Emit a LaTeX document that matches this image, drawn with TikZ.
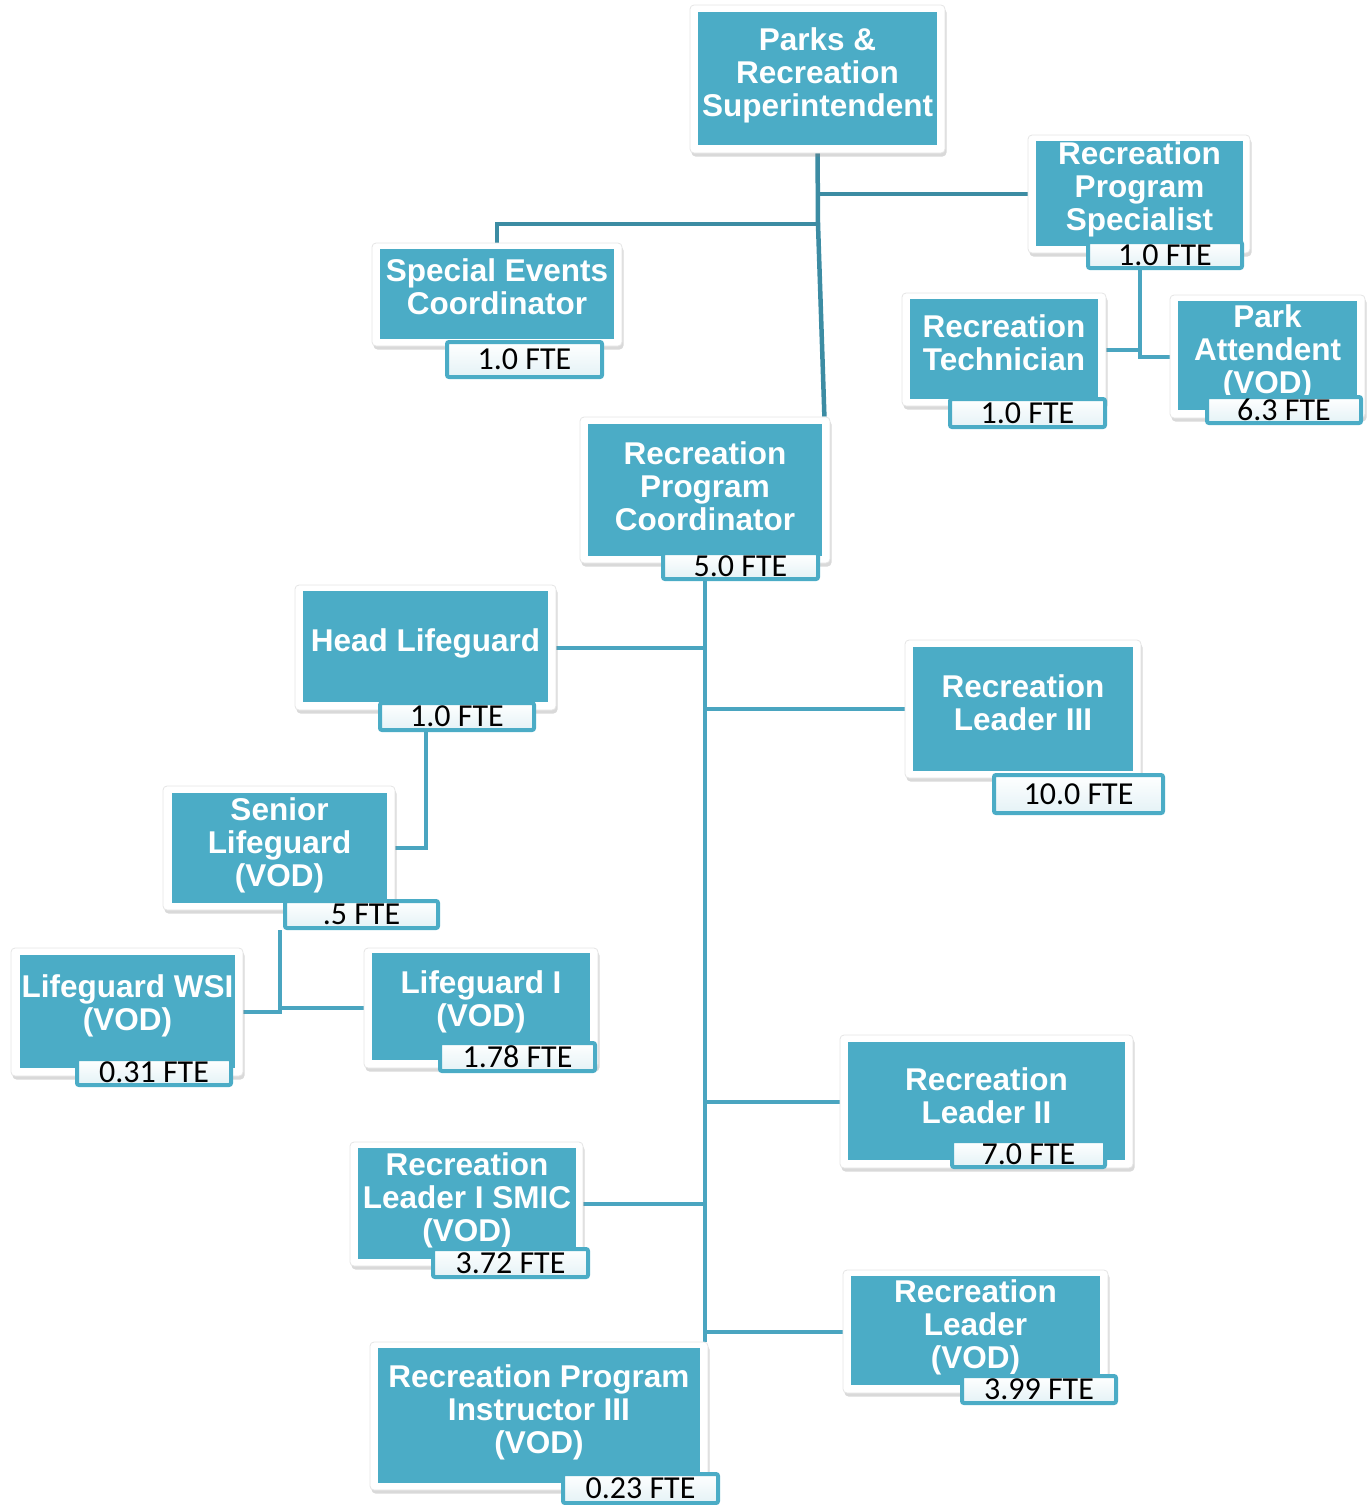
\documentclass[tikz,border=0pt]{standalone}
\usepackage{fontspec}
\setmainfont{Liberation Sans}
\newfontfamily\ftefont{Carlito}
\usetikzlibrary{fit,shadows,backgrounds,calc}
\definecolor{teal1}{HTML}{4BACC6}
\definecolor{connA}{HTML}{3C8CA3}
\definecolor{connB}{HTML}{4AA5C0}
\definecolor{lblbot}{HTML}{E4F2F6}
\tikzset{
 frame/.style={fill=white, draw=black!10, line width=0.8pt, rounded corners=4pt, inner sep=0pt,
   drop shadow={shadow xshift=1.5pt, shadow yshift=-3.5pt, opacity=0.3}},
 tealbox/.style={fill=teal1, inner sep=0pt, draw=none},
 title/.style={text=white, font=\fontsize{31.5}{33}\selectfont\bfseries, align=center, inner sep=0pt},
 ftebox/.style={draw=teal1, line width=4pt, rounded corners=2pt, top color=white, bottom color=lblbot, inner sep=0pt},
 ftetext/.style={font=\ftefont\fontsize{32}{33}\selectfont, inner sep=0pt, text=black},
 lineA/.style={draw=connA, line width=4.5pt},
 lineB/.style={draw=connB, line width=4pt},
}
\begin{document}
\begin{tikzpicture}[x=1pt,y=-1pt]
\useasboundingbox (0,0) rectangle (1372,1505);

% Superintendent
\node[frame, fit={(690,5)(945,153)}] (supf) {};
\node[tealbox, fit={(698,12)(937,145)}] (sup) {};
\node[title] (supt) at (817.5,75) {Parks \&\\Recreation\\Superintendent};

% Specialist
\node[frame, fit={(1028,135)(1250,253)}] (spsf) {};
\node[tealbox, fit={(1036,141)(1243,246)}] (sps) {};
\node[title] (spst) at (1139.5,189) {Recreation\\Program\\Specialist};
\node[ftebox, fit={(1088,242)(1242,268)}] (spsl) {};
\node[ftetext] (spslt) at (spsl.center) {1.0 FTE};

% Special Events
\node[frame, fit={(372,243)(622,346)}] (sevf) {};
\node[tealbox, fit={(380,249)(614,339)}] (sev) {};
\node[title] (sevt) at (497,286.5) {Special Events\\Coordinator};
\node[ftebox, fit={(447,342)(602,377)}] (sevl) {};
\node[ftetext] (sevlt) at (sevl.center) {1.0 FTE};

% Technician
\node[frame, fit={(902,293)(1106,406)}] (tecf) {};
\node[tealbox, fit={(910,299)(1098,399)}] (tec) {};
\node[title] (tect) at (1004,342.5) {Recreation\\Technician};
\node[ftebox, fit={(950,399)(1105,427)}] (tecl) {};
\node[ftetext] (teclt) at (tecl.center) {1.0 FTE};

% Park Attendent
\node[frame, fit={(1170,295)(1365,418)}] (paf) {};
\node[tealbox, fit={(1178,301)(1357,410)}] (pa) {};
\node[title] (pat) at (1267.5,352) {Park\\Attendent\\(VOD)};
\node[ftebox, fit={(1207,397)(1361,423)}] (pal) {};
\node[ftetext] (palt) at (pal.center) {6.3 FTE};

% Recreation Program Coordinator
\node[frame, fit={(580,417)(830,563)}] (rpcf) {};
\node[tealbox, fit={(588,424)(822,556)}] (rpc) {};
\node[title] (rpct) at (705,486) {Recreation\\Program\\Coordinator};
\node[ftebox, fit={(663,553)(818,579)}] (rpcl) {};
\node[ftetext] (rpclt) at (rpcl.center) {5.0 FTE};

% Head Lifeguard
\node[frame, fit={(295,585)(556,710)}] (hlf) {};
\node[tealbox, fit={(303,591)(548,702)}] (hl) {};
\node[title] (hlt) at (425.5,643) {Head Lifeguard};
\node[ftebox, fit={(380,703)(534,730)}] (hll) {};
\node[ftetext] (hllt) at (hll.center) {1.0 FTE};

% Recreation Leader III
\node[frame, fit={(905,640)(1141,778)}] (rl3f) {};
\node[tealbox, fit={(913,647)(1133,771)}] (rl3) {};
\node[title] (rl3t) at (1023,702.5) {Recreation\\Leader III};
\node[ftebox, fit={(994,775)(1163,813)}] (rl3l) {};
\node[ftetext] (rl3lt) at (rl3l.center) {10.0 FTE};

% Senior Lifeguard
\node[frame, fit={(163,786)(395,910)}] (slf) {};
\node[tealbox, fit={(172,793)(387,903)}] (sl) {};
\node[title] (slt) at (279.5,845) {Senior\\Lifeguard\\(VOD)};
\node[ftebox, fit={(285,901)(438,928)}] (sll) {};
\node[ftetext] (sllt) at (sll.center) {.5 FTE};

% Lifeguard WSI
\node[frame, fit={(11,948)(243,1076)}] (wsif) {};
\node[tealbox, fit={(20,955)(235,1068)}] (wsi) {};
\node[title] (wsit) at (127.5,1006) {Lifeguard WSI\\(VOD)};
\node[ftebox, fit={(77,1059)(231,1085)}] (wsil) {};
\node[ftetext] (wsilt) at (wsil.center) {0.31 FTE};

% Lifeguard I
\node[frame, fit={(364,948)(598,1068)}] (l1f) {};
\node[tealbox, fit={(372,953)(590,1060)}] (l1) {};
\node[title] (l1t) at (481,1002) {Lifeguard I\\(VOD)};
\node[ftebox, fit={(440,1043)(595,1071)}] (l1l) {};
\node[ftetext] (l1lt) at (l1l.center) {1.78 FTE};

% Recreation Leader II
\node[frame, fit={(840,1035)(1133,1168)}] (rl2f) {};
\node[tealbox, fit={(848,1042)(1125,1160)}] (rl2) {};
\node[title] (rl2t) at (986.5,1095.5) {Recreation\\Leader II};
\node[ftebox, fit={(952,1141)(1105,1167)}] (rl2l) {};
\node[ftetext] (rl2lt) at (rl2l.center) {7.0 FTE};

% Recreation Leader I SMIC
\node[frame, fit={(350,1142)(583,1266)}] (smicf) {};
\node[tealbox, fit={(358,1148)(576,1259)}] (smic) {};
\node[title] (smict) at (467,1200) {Recreation\\Leader I SMIC\\(VOD)};
\node[ftebox, fit={(433,1249)(588,1277)}] (smicl) {};
\node[ftetext] (smiclt) at (smicl.center) {3.72 FTE};

% Recreation Leader (VOD)
\node[frame, fit={(843,1270)(1108,1393)}] (rlvf) {};
\node[tealbox, fit={(851,1276)(1100,1385)}] (rlv) {};
\node[title] (rlvt) at (975.5,1327) {Recreation\\Leader\\(VOD)};
\node[ftebox, fit={(962,1376)(1116,1403)}] (rlvl) {};
\node[ftetext] (rlvlt) at (rlvl.center) {3.99 FTE};

% Recreation Program Instructor III
\node[frame, fit={(370,1342)(708,1490)}] (rpif) {};
\node[tealbox, fit={(378,1348)(700,1483)}] (rpi) {};
\node[title] (rpit) at (539,1412) {Recreation Program\\Instructor III\\(VOD)};
\node[ftebox, fit={(563,1474)(718,1503)}] (rpil) {};
\node[ftetext] (rpilt) at (rpil.center) {0.23 FTE};

\coordinate (j1) at (818,224);

\begin{scope}[on background layer]
\draw[lineA] (sup.south) -- (j1) -- ($(rpcf.north east)+(-6,0)$);
\draw[lineA] (sup.south |- spsf.west) -- (spsf.west);
\draw[lineA] (j1) -- (j1 -| sev.north) -- (sevf.north);
\draw[lineB] (sps.south |- spsl.south) -- (sps.south |- paf.west) -- (paf.west);
\draw[lineB] (tecf.east) -- (tecf.east -| sps.south);
\draw[lineB] (rpc.south |- rpcl.south) -- (rpc.south |- rpif.north);
\draw[lineB] (hlf.east) -- (hlf.east -| rpc.south);
\draw[lineB] (rl3f.west) -- (rl3f.west -| rpc.south);
\draw[lineB] (rl2f.west) -- (rl2f.west -| rpc.south);
\draw[lineB] (smicf.east) -- (smicf.east -| rpc.south);
\draw[lineB] (rlvf.west) -- (rlvf.west -| rpc.south);
\draw[lineB] (hl.south |- hll.south) -- (hl.south |- slf.east) -- (slf.east);
\draw[lineB] (sl.south |- sll.south) -- (sl.south |- wsif.east) -- (wsif.east);
\draw[lineB] (sl.south |- l1f.west) -- (l1f.west);
\end{scope}
\end{tikzpicture}
\end{document}
